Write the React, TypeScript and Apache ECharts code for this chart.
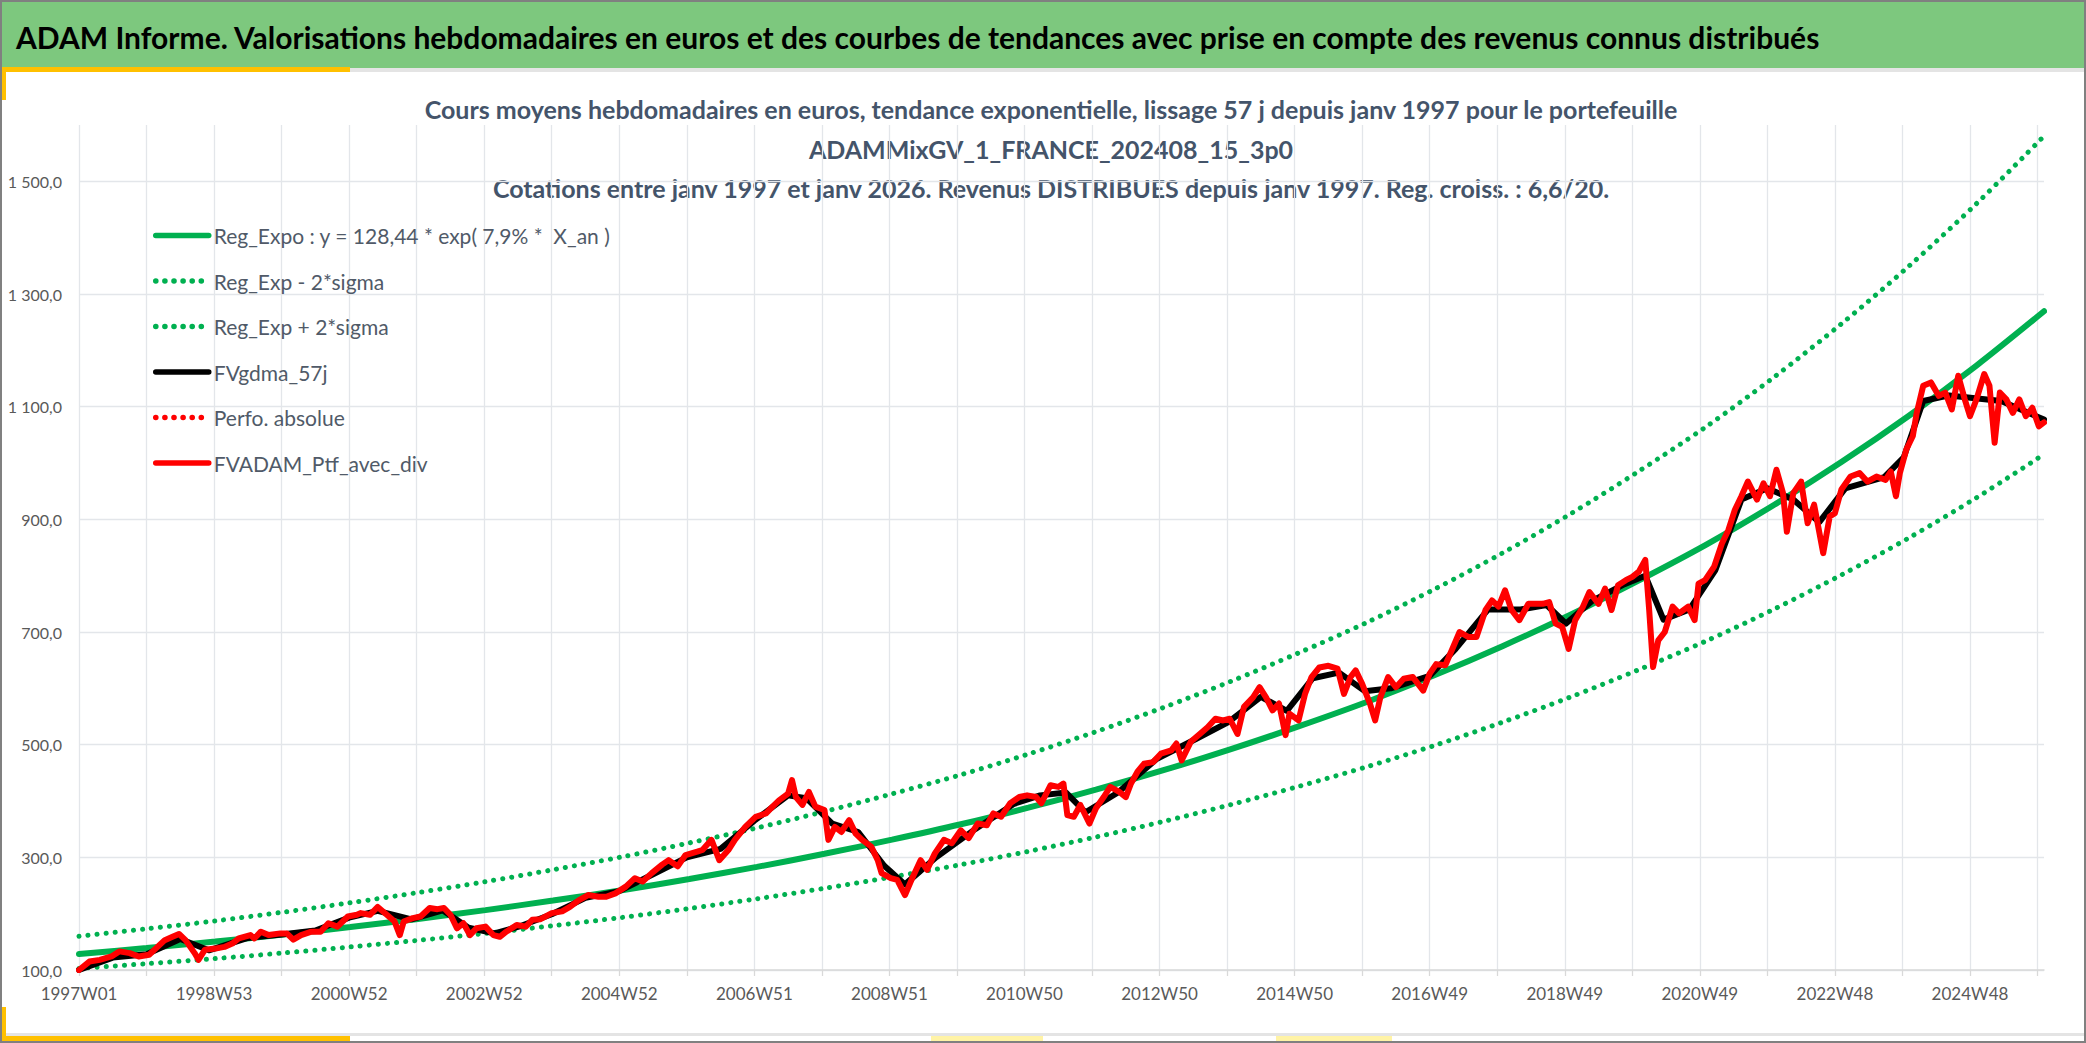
import React, { useEffect, useRef } from "react";
import * as echarts from "echarts";

// ---------- categories (ISO weeks from 1997W01 to 2026W01) ----------
const FIRST_YEAR = 1997;
const LAST_YEAR = 2026;
function isoWeeksInYear(y: number): number {
  const d = new Date(Date.UTC(y, 0, 1)).getUTCDay();
  const leap = (y % 4 === 0 && y % 100 !== 0) || y % 400 === 0;
  return d === 4 || (leap && d === 3) ? 53 : 52;
}
const weekLabels: string[] = [];
for (let y = FIRST_YEAR; y < LAST_YEAR; y++) {
  for (let w = 1; w <= isoWeeksInYear(y); w++) weekLabels.push(`${y}W${String(w).padStart(2, "0")}`);
}
weekLabels.push(`${LAST_YEAR}W01`);

// ---------- y ticks ----------
const yTickValues = [100, 300, 500, 700, 900, 1100, 1300, 1500];

// ---------- texts ----------
const bannerTitle =
  "ADAM Informe. Valorisations hebdomadaires en euros et des courbes de tendances avec prise en compte des revenus connus distribués";
const subTitleLines = [
  "Cours moyens hebdomadaires en euros, tendance exponentielle, lissage 57 j depuis janv 1997 pour le portefeuille",
  "ADAMMixGV_1_FRANCE_202408_15_3p0",
  "Cotations entre janv 1997 et janv 2026. Revenus DISTRIBUES depuis janv 1997. Reg. croiss. : 6,6/20.",
];
const seriesNames = [
  "Reg_Expo : y = 128,44 * exp( 7,9% *  X_an )",
  "Reg_Exp - 2*sigma",
  "Reg_Exp + 2*sigma",
  "FVgdma_57j",
  "Perfo. absolue",
  "FVADAM_Ptf_avec_div",
];

// ---------- trend curves (yearly points, first week of each year) ----------
const trendWeeks = [
  "1997W01", "1998W01", "1999W01", "2000W01", "2001W01", "2002W01", "2003W01", "2004W01", "2005W01", "2006W01",
  "2007W01", "2008W01", "2009W01", "2010W01", "2011W01", "2012W01", "2013W01", "2014W01", "2015W01", "2016W01",
  "2017W01", "2018W01", "2019W01", "2020W01", "2021W01", "2022W01", "2023W01", "2024W01", "2025W01", "2026W01",
];
const trendValues = [
  128.4, 139.0, 150.4, 162.8, 176.2, 190.7, 206.3, 223.3, 241.6, 261.5, 283.0, 306.3, 331.4, 358.7, 388.2,
  420.1, 454.6, 492.0, 532.4, 576.2, 623.5, 674.8, 730.2, 790.3, 855.2, 925.5, 1001.6, 1083.9, 1173.0, 1269.4,
];
const upperValues = [
  159.9, 173.1, 187.2, 202.7, 219.4, 237.4, 256.8, 278.0, 300.8, 325.6, 352.3, 381.3, 412.6, 446.6, 483.3,
  523.0, 566.0, 612.5, 662.8, 717.4, 776.3, 840.1, 909.1, 983.9, 1064.7, 1152.2, 1247.0, 1349.5, 1460.4, 1580.4,
];
const lowerValues = [
  102.8, 111.2, 120.3, 130.2, 141.0, 152.6, 165.0, 178.6, 193.3, 209.2, 226.4, 245.0, 265.1, 287.0, 310.6,
  336.1, 363.7, 393.6, 425.9, 461.0, 498.8, 539.8, 584.2, 632.2, 684.2, 740.4, 801.3, 867.1, 938.4, 1015.5,
];

// ---------- portfolio weekly valuation [week index, value] ----------
const ptfPoints: [number, number][] = [
  [0, 100], [8, 115], [16, 118], [25, 124], [31, 133], [39, 130], [46, 124], [54, 127], [59, 138], [66, 153],
  [72, 159], [77, 164], [82, 153], [89, 130], [92, 118], [97, 136], [105, 138], [112, 141], [118, 147], [123, 156],
  [132, 162], [135, 156], [140, 168], [146, 162], [155, 165], [160, 165], [165, 154], [171, 162], [179, 168], [186, 168],
  [192, 183], [199, 177], [207, 195], [214, 198], [217, 201], [224, 198], [230, 212], [237, 198], [243, 186], [247, 162],
  [250, 186], [257, 192], [263, 195], [270, 210], [276, 208], [281, 210], [286, 198], [291, 174], [296, 183], [301, 162],
  [306, 174], [313, 177], [319, 162], [324, 159], [329, 168], [337, 180], [344, 177], [349, 189], [355, 190], [364, 201],
  [372, 204], [378, 212], [385, 224], [392, 233], [400, 230], [406, 230], [413, 236], [421, 248], [428, 263], [434, 257],
  [441, 272], [449, 287], [454, 295], [461, 284], [467, 304], [476, 310], [480, 313], [487, 331], [493, 295], [500, 313],
  [505, 331], [513, 354], [521, 372], [529, 378], [534, 390], [539, 401], [546, 413], [549, 437], [552, 407], [557, 393],
  [562, 416], [567, 390], [574, 384], [577, 331], [582, 354], [587, 345], [593, 366], [598, 342], [603, 331], [610, 319],
  [615, 295], [618, 272], [625, 263], [630, 260], [636, 233], [641, 260], [648, 295], [653, 278], [659, 307], [666, 331],
  [672, 325], [679, 348], [685, 334], [692, 360], [699, 357], [704, 378], [710, 372], [717, 396], [724, 407], [730, 410],
  [737, 407], [741, 396], [748, 428], [754, 425], [758, 431], [761, 375], [766, 372], [771, 393], [778, 360], [783, 387],
  [789, 407], [794, 425], [801, 416], [806, 407], [810, 431], [815, 452], [820, 466], [827, 469], [833, 484], [841, 490],
  [845, 502], [849, 472], [856, 505], [863, 519], [869, 531], [875, 546], [881, 543], [886, 546], [892, 519], [897, 567],
  [904, 584], [909, 602], [914, 584], [919, 561], [924, 573], [929, 517], [932, 555], [939, 543], [944, 590], [949, 620],
  [955, 637], [962, 640], [969, 635], [974, 590], [979, 620], [983, 632], [988, 608], [994, 573], [998, 543], [1002, 584],
  [1008, 620], [1014, 602], [1020, 617], [1027, 620], [1035, 596], [1040, 626], [1045, 643], [1052, 641], [1058, 673], [1063, 700],
  [1070, 691], [1076, 691], [1083, 739], [1088, 756], [1093, 745], [1098, 774], [1103, 739], [1109, 721], [1116, 750], [1122, 750],
  [1127, 750], [1132, 753], [1137, 715], [1142, 709], [1147, 670], [1152, 721], [1158, 745], [1163, 771], [1170, 750], [1175, 777],
  [1180, 739], [1185, 783], [1191, 792], [1196, 798], [1201, 807], [1206, 828], [1209, 739], [1212, 638], [1216, 685], [1221, 700],
  [1227, 745], [1232, 733], [1239, 745], [1244, 721], [1247, 786], [1252, 792], [1259, 816], [1265, 857], [1270, 881], [1275, 917],
  [1280, 941], [1285, 967], [1292, 935], [1297, 964], [1302, 941], [1307, 988], [1312, 947], [1315, 878], [1320, 947], [1326, 967],
  [1331, 893], [1336, 926], [1343, 840], [1348, 905], [1352, 911], [1357, 953], [1364, 976], [1371, 982], [1377, 967], [1384, 976],
  [1391, 970], [1395, 985], [1399, 941], [1402, 982], [1407, 1024], [1412, 1048], [1415, 1089], [1420, 1137], [1426, 1143], [1432, 1119],
  [1437, 1125], [1442, 1095], [1447, 1155], [1452, 1113], [1456, 1083], [1461, 1113], [1467, 1158], [1471, 1137], [1475, 1036], [1479, 1125],
  [1484, 1113], [1489, 1089], [1494, 1113], [1499, 1083], [1504, 1098], [1509, 1065], [1513, 1072],
];

// ---------- 57-day smoothed curve [week index, value] ----------
const gdmaPoints: [number, number][] = [
  [0, 100], [26, 122], [52, 128], [78, 155], [100, 135], [130, 157], [156, 163], [182, 170], [208, 193], [230, 205],
  [256, 190], [280, 206], [300, 175], [320, 165], [340, 178], [364, 199], [390, 228], [416, 240], [442, 270], [468, 300],
  [494, 315], [520, 365], [546, 410], [560, 405], [580, 360], [600, 345], [620, 285], [636, 252], [660, 300], [690, 350],
  [720, 395], [740, 410], [760, 415], [775, 380], [800, 415], [830, 475], [860, 510], [885, 540], [910, 585], [930, 560],
  [950, 618], [970, 628], [990, 595], [1010, 600], [1040, 622], [1060, 670], [1085, 740], [1110, 740], [1130, 748], [1145, 715],
  [1165, 755], [1190, 785], [1206, 800], [1220, 722], [1240, 740], [1260, 810], [1280, 935], [1300, 955], [1320, 935], [1340, 895],
  [1360, 955], [1390, 975], [1405, 1010], [1420, 1110], [1440, 1120], [1460, 1115], [1480, 1110], [1500, 1090], [1513, 1077],
];

const FONT = "Lato";
const GREEN = "#00B050";
const RED = "#FF0000";
const DOTS = [0.1, 9];

function frNumber(v: number): string {
  const [i, d] = v.toFixed(1).split(".");
  return i.replace(/\B(?=(\d{3})+(?!\d))/g, " ") + "," + d;
}

export default function App() {
  const ref = useRef<HTMLDivElement>(null);
  useEffect(() => {
    if (!ref.current) return;
    const chart = echarts.init(ref.current, undefined, { renderer: "svg" });
    const trendData = (vals: number[]) => trendWeeks.map((w, i) => [w, vals[i]]);
    const option: any = {
      animation: false,
      backgroundColor: "#ffffff",
      grid: { left: 79, right: 42, top: 125, bottom: 73, containLabel: false },
      legend: {
        orient: "vertical",
        left: 153,
        top: 225,
        padding: 0,
        itemWidth: 53,
        itemHeight: 20,
        itemGap: 24.5,
        selectedMode: false,
        itemStyle: { opacity: 0, borderWidth: 0 },
        lineStyle: { width: 5.5, cap: "round" },
        textStyle: { fontFamily: FONT, fontSize: 21, lineHeight: 20, color: "#505A68" },
        data: seriesNames,
      },
      xAxis: {
        type: "category",
        data: weekLabels,
        boundaryGap: false,
        axisLine: { lineStyle: { color: "#D9D9D9", width: 1.5 } },
        axisTick: { show: true, interval: 51, length: 6, lineStyle: { color: "#D9D9D9", width: 1.3 } },
        axisLabel: { interval: 103, color: "#595959", fontFamily: FONT, fontSize: 17, margin: 15 },
        splitLine: { show: true, interval: 51, lineStyle: { color: "#E3E6EA", width: 1.3 } },
      },
      yAxis: {
        type: "value",
        min: yTickValues[0],
        max: 1600,
        interval: 200,
        axisLine: { show: false },
        axisTick: { show: false },
        axisLabel: {
          color: "#595959",
          fontFamily: FONT,
          fontSize: 16,
          margin: 17,
          showMaxLabel: false,
          formatter: (v: number) => (yTickValues.includes(v) ? frNumber(v) : ""),
        },
        splitLine: { show: true, showMaxLine: false, lineStyle: { color: "#E3E6EA", width: 1.3 } },
      },
      series: [
        {
          name: seriesNames[0], type: "line", symbol: "none", smooth: 0.3, z: 3,
          data: trendData(trendValues),
          lineStyle: { color: GREEN, width: 6, cap: "round" }, itemStyle: { color: GREEN },
        },
        {
          name: seriesNames[1], type: "line", symbol: "none", smooth: 0.3, z: 2,
          data: trendData(lowerValues),
          lineStyle: { color: GREEN, width: 5, type: DOTS, cap: "round" }, itemStyle: { color: GREEN },
        },
        {
          name: seriesNames[2], type: "line", symbol: "none", smooth: 0.3, z: 2,
          data: trendData(upperValues),
          lineStyle: { color: GREEN, width: 5, type: DOTS, cap: "round" }, itemStyle: { color: GREEN },
        },
        {
          name: seriesNames[3], type: "line", symbol: "none", z: 4,
          data: gdmaPoints,
          lineStyle: { color: "#000000", width: 6, cap: "round", join: "round" }, itemStyle: { color: "#000000" },
        },
        {
          name: seriesNames[4], type: "line", symbol: "none", z: 4,
          data: [],
          lineStyle: { color: RED, width: 4, type: DOTS, cap: "round" }, itemStyle: { color: RED },
        },
        {
          name: seriesNames[5], type: "line", symbol: "none", z: 5,
          data: ptfPoints,
          lineStyle: { color: RED, width: 6, cap: "round", join: "round" }, itemStyle: { color: RED },
        },
      ],
      graphic: [
        { type: "rect", silent: true, shape: { x: 0, y: 0, width: 2086, height: 68 }, style: { fill: "#7DC87E" } },
        { type: "rect", silent: true, shape: { x: 0, y: 68, width: 2086, height: 4 }, style: { fill: "#E4E4E4" } },
        { type: "rect", silent: true, shape: { x: 0, y: 67, width: 350, height: 5 }, style: { fill: "#FFC000" } },
        { type: "rect", silent: true, shape: { x: 0, y: 67, width: 6, height: 33 }, style: { fill: "#FFC000" } },
        { type: "rect", silent: true, shape: { x: 0, y: 1033, width: 2086, height: 3 }, style: { fill: "#E4E4E4" } },
        { type: "rect", silent: true, shape: { x: 0, y: 1036, width: 350, height: 6 }, style: { fill: "#FFC000" } },
        { type: "rect", silent: true, shape: { x: 0, y: 1007, width: 6, height: 35 }, style: { fill: "#FFC000" } },
        { type: "rect", silent: true, shape: { x: 931, y: 1036, width: 112, height: 6 }, style: { fill: "#FFF3A6" } },
        { type: "rect", silent: true, shape: { x: 1276, y: 1036, width: 116, height: 6 }, style: { fill: "#FFF3A6" } },
        {
          type: "rect", silent: true, shape: { x: 1, y: 1, width: 2084, height: 1041 },
          style: { fill: "none", stroke: "#808080", lineWidth: 2 },
        },
        {
          type: "text", silent: true, x: 16, y: 37,
          style: { text: bannerTitle, fontFamily: FONT, fontWeight: "bold", fontSize: 30, fill: "#000000", verticalAlign: "middle" },
        },
        ...subTitleLines.map((t, i) => ({
          type: "text", silent: true, x: 1051, y: 109 + i * 39.5,
          style: { text: t, fontFamily: FONT, fontWeight: "bold", fontSize: 25, fill: "#44546A", align: "center", verticalAlign: "middle" },
        })),
      ],
    };
    chart.setOption(option);
    return () => chart.dispose();
  }, []);
  return (
    <div
      ref={ref}
      style={{ position: "absolute", left: 0, top: 0, width: 2086, height: 1043, background: "#ffffff" }}
    />
  );
}
